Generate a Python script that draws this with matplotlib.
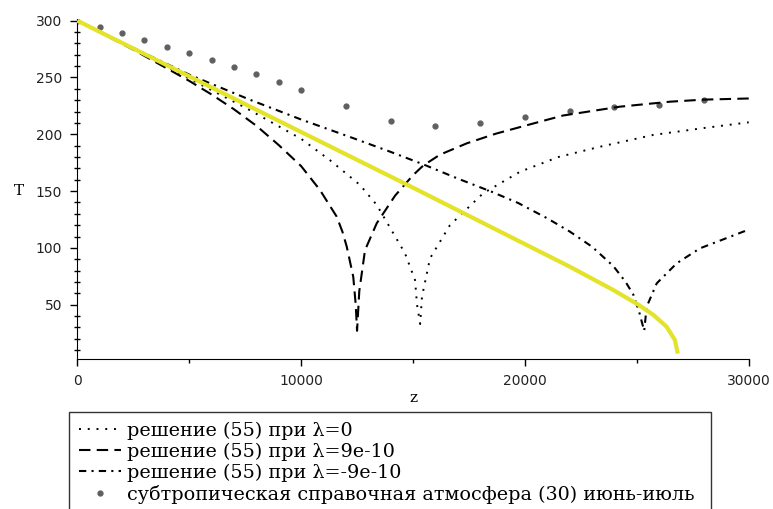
import matplotlib
matplotlib.use("Agg")
from matplotlib import pyplot as plt
from matplotlib.ticker import MultipleLocator, FixedLocator

# solution (55), lambda = 0
z_l0 = [0, 2500, 5000, 7500, 10000, 11300, 12630, 13380, 14640, 15090, 15180,
        15320, 15400, 15760, 16650, 18130, 19780, 21500, 23350, 25730, 28000, 30000]
t_l0 = [300, 275, 249, 223.5, 196, 177, 155.4, 137.8, 95.3, 71.7, 50,
        33, 57, 90.8, 120, 148, 167, 180, 189, 199.4, 205.5, 210.5]

# solution (55), lambda = 9e-10
z_lp = [0, 2500, 5000, 6000, 7000, 8000, 9000, 10000, 10840, 11590, 11850,
        12040, 12330, 12440, 12500, 12600, 12855, 13380, 14200, 15000, 15460,
        16200, 17400, 18700, 20000, 21700, 24250, 26500, 28000, 30000]
t_lp = [300, 274.5, 247, 235, 222, 207.5, 190.5, 172, 151, 127.5, 114,
        101, 74.6, 50, 27, 62, 98, 121.7, 146, 164, 172.5,
        182, 192, 200.5, 207.5, 216.5, 224.3, 228.7, 230.5, 231.5]

# solution (55), lambda = -9e-10
z_lm = [0, 2500, 5000, 7700, 10000, 12200, 14000, 15460, 17000, 18500, 19700,
        21000, 22010, 23000, 23950, 24500, 24840, 25100, 25220, 25330,
        25440, 25890, 26780, 27820, 29760, 30000]
t_lm = [300, 276, 252.5, 230.5, 213, 197.5, 184.5, 173.5, 161, 149.5, 139.5,
        126, 114.3, 101, 84, 70, 59, 44, 35, 27,
        48.2, 68.8, 86.4, 99.6, 114.3, 116]

# subtropical reference atmosphere (30), June-July
z_ref = [0, 1000, 2000, 3000, 4000, 5000, 6000, 7000, 8000, 9000, 10000,
         12000, 14000, 16000, 18000, 20000, 22000, 24000, 26000, 28000]
t_ref = [300, 294.2, 289.2, 283.3, 277.1, 271.3, 265.1, 259.5, 253.3, 246.3, 239.3,
         225.2, 211.4, 207.6, 209.9, 215, 220.2, 223.8, 226, 229.9]

# yellow curve
z_y = [0, 5000, 10000, 15000, 19780, 22010, 23950, 25070, 25740, 26330,
       26700, 26830]
t_y = [300, 251, 202, 153, 105.5, 83.4, 62.9, 50, 41, 30.6,
       19, 7]

labels = ["решение (55) при λ=0",
          "решение (55) при λ=9e-10",
          "решение (55) при λ=-9e-10",
          "субтропическая справочная атмосфера (30) июнь-июль"]

fig = plt.figure(figsize=(7.73, 5.09), dpi=100)
ax = fig.add_axes([0.1, 0.2947, 0.8686, 0.6674])

l4, = ax.plot(z_ref, t_ref, linestyle="none", marker="o", markersize=3.5,
              color="#606060", zorder=2)
l1, = ax.plot(z_l0, t_l0, color="black", lw=1.4, linestyle=(0, (1, 3.5)), zorder=3)
l2, = ax.plot(z_lp, t_lp, color="black", lw=1.5, linestyle=(0, (5.5, 3)), zorder=3)
l3, = ax.plot(z_lm, t_lm, color="black", lw=1.5,
              linestyle=(0, (3.5, 2.5, 1, 2.5)), zorder=3)
ax.plot(z_y, t_y, color="#e3e32a", lw=3, solid_capstyle="butt", zorder=4)

ax.set_xlim(0, 30000)
ax.set_ylim(2.2, 301.2)
for s in ["top", "right"]:
    ax.spines[s].set_visible(False)

ax.xaxis.set_major_locator(FixedLocator([0, 10000, 20000, 30000]))
ax.xaxis.set_minor_locator(FixedLocator([5000, 15000, 25000]))
ax.yaxis.set_major_locator(FixedLocator([50, 100, 150, 200, 250, 300]))
ax.yaxis.set_minor_locator(MultipleLocator(10))
ax.tick_params(which="major", length=5, width=1, labelsize=10, pad=6,
               labelcolor="#222222")
ax.tick_params(which="minor", length=3, width=1)
ax.tick_params(axis="y", which="minor", direction="inout", length=4)

ax.set_xlabel("z", family="DejaVu Serif", fontsize=11, labelpad=2)
ax.set_ylabel("T", family="DejaVu Serif", fontsize=11, rotation=0, va="center")
ax.yaxis.set_label_coords(-0.087, 0.494)

leg = ax.legend([l1, l2, l3, l4], labels,
                bbox_to_anchor=(0.0896, -0.5, 0.8302, 0.6911),
                bbox_transform=fig.transFigure, loc="upper left", mode="expand",
                prop={"family": "DejaVu Serif", "size": 13.8},
                frameon=True, fancybox=False, edgecolor="black",
                borderpad=0.5, borderaxespad=0, labelspacing=0.15,
                handlelength=2.2, handletextpad=0.3)
leg.get_frame().set_linewidth(1)

fig.savefig("out.png", dpi=100)
